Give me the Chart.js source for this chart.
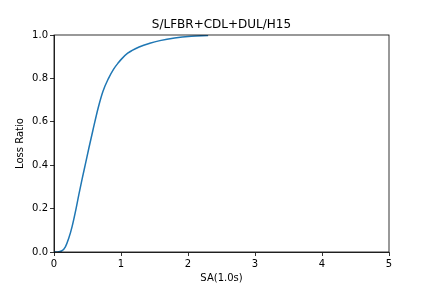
<!DOCTYPE html>
<html>
<head>
<meta charset="utf-8">
<script src="https://cdn.jsdelivr.net/npm/chart.js"></script>
<style>
  html, body { margin: 0; padding: 0; background: #fff; }
  #wrap { width: 432px; height: 288px; }
</style>
</head>
<body>
<div id="wrap"><canvas id="myChart"></canvas></div>
<script>
// values
const sa = [0, 0.05, 0.12, 0.17, 0.22, 0.27, 0.32, 0.37, 0.42, 0.47, 0.52, 0.58,
            0.66, 0.73, 0.81, 0.89, 0.96, 1.01, 1.10, 1.28, 1.43, 1.58, 1.8, 2.05, 2.3];
const lossRatio = [0, 0, 0.006, 0.024, 0.063, 0.117, 0.186, 0.263, 0.337, 0.407, 0.478, 0.56,
                   0.665, 0.74, 0.798, 0.843, 0.872, 0.89, 0.916, 0.946, 0.962, 0.974, 0.986, 0.994, 0.998];
const xTicks = [0, 1, 2, 3, 4, 5];
const yTicks = [0, 0.2, 0.4, 0.6, 0.8, 1.0];
const chartTitle = 'S/LFBR+CDL+DUL/H15';

Chart.defaults.font.family = 'DejaVu Sans';
Chart.defaults.color = '#000';

// matplotlib style box around the axes, title centred over the axes
const boxPlugin = {
  id: 'box',
  afterDatasetsDraw(chart) {
    const a = chart.chartArea, ctx = chart.ctx;
    ctx.save();
    ctx.strokeStyle = '#000';
    ctx.lineWidth = 0.8;
    ctx.strokeRect(a.left, a.top, a.right - a.left, a.bottom - a.top);
    ctx.fillStyle = '#000';
    ctx.font = '12px "DejaVu Sans"';
    ctx.textAlign = 'center';
    ctx.textBaseline = 'middle';
    ctx.fillText(chartTitle, (a.left + a.right) / 2, 24.5);
    ctx.restore();
  }
};

const data = {
  datasets: [{
    data: sa.map((x, i) => ({ x: x, y: lossRatio[i] })),
    showLine: true,
    borderColor: '#1f77b4',
    borderWidth: 1.5,
    pointRadius: 0,
    cubicInterpolationMode: 'monotone'
  }]
};

const config = {
  type: 'scatter',
  data: data,
  plugins: [boxPlugin],
  options: {
    responsive: false,
    animation: false,
    layout: { padding: { left: 0, right: 43, top: 35, bottom: 0 } },
    plugins: {
      legend: { display: false },
      tooltip: { enabled: false }
    },
    scales: {
      x: {
        type: 'linear',
        min: 0, max: 5,
        afterBuildTicks: s => { s.ticks = xTicks.map(v => ({ value: v })); },
        afterFit: s => { s.height = 36; },
        ticks: { font: { size: 10 }, padding: 2, maxRotation: 0, callback: v => String(v) },
        grid: { drawOnChartArea: false, tickLength: 4, color: '#000', lineWidth: 0.8 },
        border: { color: '#000', width: 0.8 },
        title: { display: true, text: 'SA(1.0s)', font: { size: 10 }, padding: { top: 0, bottom: 4 } }
      },
      y: {
        min: 0, max: 1,
        afterBuildTicks: s => { s.ticks = yTicks.map(v => ({ value: v })); },
        afterFit: s => { s.width = 54; },
        ticks: { font: { size: 10 }, padding: 2, callback: v => v.toFixed(1) },
        grid: { drawOnChartArea: false, tickLength: 4, color: '#000', lineWidth: 0.8 },
        border: { color: '#000', width: 0.8 },
        title: { display: true, text: 'Loss Ratio', font: { size: 10 }, padding: { top: 14.5, bottom: 0 } }
      }
    }
  }
};

const canvas = document.getElementById('myChart');
canvas.width = 432;
canvas.height = 288;
const myChart = new Chart(canvas, config);
</script>
</body>
</html>
